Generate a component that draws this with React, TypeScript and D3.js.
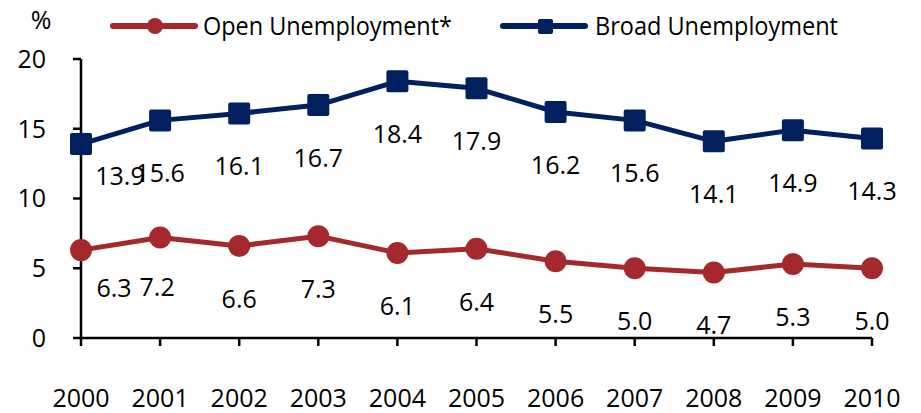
import React from "react";
import * as d3 from "d3";

const years = ["2000", "2001", "2002", "2003", "2004", "2005", "2006", "2007", "2008", "2009", "2010"];
const openUnemployment = [6.3, 7.2, 6.6, 7.3, 6.1, 6.4, 5.5, 5.0, 4.7, 5.3, 5.0];
const broadUnemployment = [13.9, 15.6, 16.1, 16.7, 18.4, 17.9, 16.2, 15.6, 14.1, 14.9, 14.3];
const yTicks = [0, 5, 10, 15, 20];
const seriesNames = ["Open Unemployment*", "Broad Unemployment"];

const RED = "#A5282C";
const BLUE = "#002060";
const FONT = "'Open Sans', sans-serif";
const FS = 25;

export default function App() {
  const W = 921;
  const H = 413;
  const x = d3.scalePoint<string>().domain(years).range([81, 872]);
  const y = d3.scaleLinear().domain([0, 20]).range([338, 59]);
  const line = d3
    .line<number>()
    .x((_, i) => x(years[i]) as number)
    .y((d) => y(d));

  const base = (cy: number) => cy + 0.357 * FS;

  // label offsets (dx, dy from the point to label centre)
  const labelOffset = (series: number, i: number): [number, number] => {
    if (i === 0) return series === 0 ? [33, 38] : [39, 32];
    if (series === 0 && i === 1) return [-3, 50];
    return [0, 53];
  };

  return (
    <svg
      width={W}
      height={H}
      style={{ position: "absolute", left: 0, top: 0, background: "#fff" }}
      fontFamily={FONT}
    >
      {/* % label */}
      <text x={41} y={base(20)} fontSize={FS} textAnchor="middle" fill="#000">
        %
      </text>

      {/* Legend */}
      <g>
        <line x1={113} x2={195} y1={26} y2={26} stroke={RED} strokeWidth={6} strokeLinecap="round" />
        <circle cx={155} cy={26} r={8} fill={RED} />
        <text x={203} y={base(26)} fontSize={FS} fill="#000" textLength={249} lengthAdjust="spacingAndGlyphs">
          {seriesNames[0]}
        </text>
        <line x1={503} x2={585} y1={26} y2={26} stroke={BLUE} strokeWidth={6} strokeLinecap="round" />
        <rect x={538} y={19} width={15} height={15} rx={2} fill={BLUE} />
        <text x={595} y={base(26)} fontSize={FS} fill="#000" textLength={243} lengthAdjust="spacingAndGlyphs">
          {seriesNames[1]}
        </text>
      </g>

      {/* Y axis */}
      <line x1={81} x2={81} y1={y(20)} y2={y(0)} stroke="#000" strokeWidth={2.5} />
      {yTicks.map((t) => (
        <g key={t}>
          <line x1={73} x2={81} y1={y(t)} y2={y(t)} stroke="#000" strokeWidth={2.5} />
          <text x={46} y={base(y(t))} fontSize={FS} textAnchor="end" fill="#000">
            {t}
          </text>
        </g>
      ))}

      {/* X axis */}
      <line x1={81} x2={872} y1={y(0)} y2={y(0)} stroke="#000" strokeWidth={2.5} />
      {years.map((yr) => (
        <g key={yr}>
          <line x1={x(yr)} x2={x(yr)} y1={y(0)} y2={y(0) + 8} stroke="#000" strokeWidth={2.5} />
          <text x={x(yr)} y={base(398)} fontSize={FS} textAnchor="middle" fill="#000">
            {yr}
          </text>
        </g>
      ))}

      {/* Broad series */}
      <path d={line(broadUnemployment) || ""} fill="none" stroke={BLUE} strokeWidth={5} strokeLinejoin="round" />
      {broadUnemployment.map((v, i) => (
        <rect
          key={i}
          x={(x(years[i]) as number) - 11}
          y={y(v) - 11}
          width={22}
          height={22}
          rx={2}
          fill={BLUE}
        />
      ))}

      {/* Open series */}
      <path d={line(openUnemployment) || ""} fill="none" stroke={RED} strokeWidth={5} strokeLinejoin="round" />
      {openUnemployment.map((v, i) => (
        <circle key={i} cx={x(years[i]) as number} cy={y(v)} r={11} fill={RED} />
      ))}

      {/* Data labels */}
      {broadUnemployment.map((v, i) => {
        const [dx, dy] = labelOffset(1, i);
        return (
          <text
            key={"b" + i}
            x={(x(years[i]) as number) + dx}
            y={base(y(v) + dy)}
            fontSize={FS}
            textAnchor="middle"
            fill="#000"
          >
            {v.toFixed(1)}
          </text>
        );
      })}
      {openUnemployment.map((v, i) => {
        const [dx, dy] = labelOffset(0, i);
        return (
          <text
            key={"o" + i}
            x={(x(years[i]) as number) + dx}
            y={base(y(v) + dy)}
            fontSize={FS}
            textAnchor="middle"
            fill="#000"
          >
            {v.toFixed(1)}
          </text>
        );
      })}
    </svg>
  );
}
